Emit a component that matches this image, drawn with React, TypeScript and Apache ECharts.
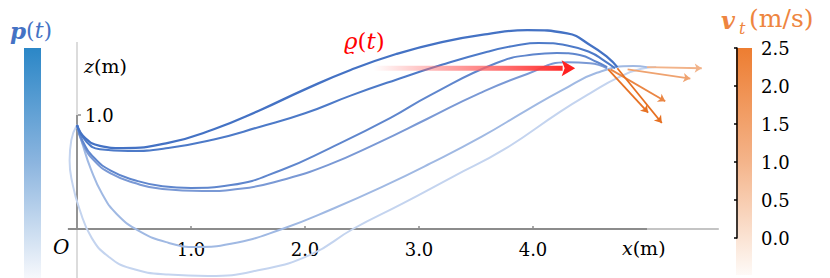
import React, { useEffect, useRef } from 'react';
import * as echarts from 'echarts';

// Trajectories p(t): [x (m), z (m)]
const curve1 = [[0,0.912],[0.07,0.80],[0.2,0.73],[0.4,0.71],[0.8,0.755],[1.2,0.875],[1.6,1.04],[2.0,1.225],[2.4,1.395],[2.8,1.535],[3.2,1.64],[3.6,1.71],[3.95,1.745],[4.3,1.715],[4.5,1.615],[4.65,1.51],[4.74,1.42]];
const curve2 = [[0,0.912],[0.08,0.77],[0.2,0.70],[0.45,0.684],[0.8,0.71],[1.2,0.785],[1.6,0.895],[2.0,1.015],[2.4,1.17],[2.8,1.31],[3.2,1.44],[3.6,1.555],[3.85,1.61],[4.05,1.632],[4.3,1.61],[4.5,1.55],[4.62,1.48],[4.72,1.41]];
const curve3 = [[0,0.912],[0.05,0.77],[0.15,0.625],[0.3,0.51],[0.5,0.43],[0.75,0.375],[1.0,0.36],[1.35,0.385],[1.8,0.52],[2.22,0.71],[2.75,0.975],[3.1,1.175],[3.68,1.456],[4.0,1.53],[4.21,1.544],[4.41,1.526],[4.56,1.465],[4.65,1.42]];
const curve4 = [[0,0.912],[0.05,0.75],[0.15,0.6],[0.3,0.485],[0.5,0.405],[0.75,0.35],[1.1,0.333],[1.45,0.355],[1.8,0.43],[2.2,0.56],[2.65,0.76],[3.07,0.965],[3.53,1.19],[3.95,1.36],[4.3,1.462],[4.5,1.455],[4.65,1.41]];
const curve5 = [[0,0.912],[0.05,0.74],[0.12,0.53],[0.22,0.31],[0.35,0.13],[0.55,-0.02],[0.8,-0.12],[1.05,-0.158],[1.35,-0.13],[1.8,0],[2.25,0.18],[2.7,0.38],[3.1,0.575],[3.55,0.81],[3.95,1.045],[4.26,1.22],[4.56,1.37],[4.88,1.43],[5.0,1.42]];
const curve6 = [[0,0.912],[-0.05,0.78],[-0.065,0.6],[-0.04,0.4],[0.02,0.18],[0.13,-0.08],[0.28,-0.245],[0.47,-0.345],[0.8,-0.40],[1.15,-0.412],[1.6,-0.36],[2.05,-0.225],[2.42,0],[2.85,0.22],[3.3,0.46],[3.75,0.70],[4.24,1.03],[4.5,1.19],[4.75,1.33],[4.95,1.405],[5.08,1.42]];

// Terminal velocity arrows
const arrowStart = [[5.0,1.42],[4.83,1.40],[4.68,1.40],[4.66,1.40],[4.74,1.41]];
const arrowEnd = [[5.48,1.41],[5.38,1.32],[5.16,1.12],[5.01,1.02],[5.13,0.93]];
const arrowSpeed = [0.8, 1.2, 1.9, 2.4, 2.45];

// Axes / ticks
const xTicks = [1, 2, 3, 4];
const zTicks = [1];
const speedMin = 0;
const speedMax = 2.5;
const speedStep = 0.5;

const SERIF = "'DejaVu Serif', 'Liberation Serif', serif";
const curveColors = ['#4472c4', '#4d7ac8', '#5f86cd', '#7a99d5', '#a0b9e3', '#c4d4ef'];
const curveWidths = [2.3, 2.1, 2, 2, 2, 2];

function speedColor(v: number) {
  const t = 0.3 + 0.7 * (v - speedMin) / (speedMax - speedMin);
  const c0 = [255, 255, 255];
  const c1 = [230, 110, 30];
  const c = c0.map((a, i) => Math.round(a + (c1[i] - a) * t));
  return `rgb(${c[0]},${c[1]},${c[2]})`;
}

const axisSeg = (coords: number[][], color: string, width: number) => ({
  type: 'line', xAxisIndex: 0, yAxisIndex: 0, data: coords, showSymbol: false, silent: true, z: 1,
  lineStyle: { color, width },
});

export default function App() {
  const ref = useRef<HTMLDivElement>(null);
  useEffect(() => {
    document.body.style.margin = '0';
    const chart = echarts.init(ref.current!, null, { renderer: 'svg' });
    const curves = [curve1, curve2, curve3, curve4, curve5, curve6];
    const option: any = {
      animation: false,
      grid: [
        { left: 54.2, top: 1, width: 684, height: 285, outerBoundsMode: 'none', containLabel: false },
        { left: 737, top: 48, width: 16, height: 190, outerBoundsMode: 'none', containLabel: false },
        { left: 77, top: 1, width: 661.2, height: 228, outerBoundsMode: 'none', containLabel: false },
      ],
      xAxis: [
        { gridIndex: 0, type: 'value', min: -0.2, max: 5.8, show: false },
        { gridIndex: 1, type: 'value', show: false, min: 0, max: 1 },
        {
          gridIndex: 2, type: 'value', min: 0, max: 5.8,
          axisLine: { show: false },
          axisTick: { show: true, inside: true, length: 3, customValues: xTicks, lineStyle: { color: '#8c8c8c', width: 1.5 } },
          axisLabel: { customValues: xTicks, formatter: (v: number) => v.toFixed(1), margin: 11, color: '#000', fontFamily: SERIF, fontSize: 18 },
          splitLine: { show: false },
        },
      ],
      yAxis: [
        { gridIndex: 0, type: 'value', min: -0.5, max: 2.0, show: false },
        {
          gridIndex: 1, type: 'value', position: 'right', min: speedMin, max: speedMax, interval: speedStep,
          axisLine: { show: true, lineStyle: { color: '#000', width: 1.5 } },
          axisTick: { show: true, inside: true, length: 3, lineStyle: { color: '#000', width: 1.5 } },
          axisLabel: { formatter: (v: number) => v.toFixed(1), margin: 8, color: '#000', fontFamily: SERIF, fontSize: 18 },
          splitLine: { show: false },
        },
        {
          gridIndex: 2, type: 'value', min: 0, max: 2.0,
          axisLine: { show: false },
          axisTick: { show: true, inside: true, length: 4, customValues: zTicks, lineStyle: { color: '#8c8c8c', width: 1.5 } },
          axisLabel: { inside: true, customValues: zTicks, formatter: (v: number) => v.toFixed(1), margin: 8, color: '#000', fontFamily: SERIF, fontSize: 18 },
          splitLine: { show: false },
        },
      ],
      series: [
        axisSeg([[0, -0.45], [0, 1.64]], '#dcdcdc', 2),
        axisSeg([[0, 0], [0, 1.0]], '#8c8c8c', 1.8),
        axisSeg([[-0.08, 0], [5.0, 0]], '#8c8c8c', 1.8),
        axisSeg([[5.0, 0], [5.63, 0]], '#c4c4c4', 1.8),
        ...curves.map((c, i) => ({
          type: 'line', xAxisIndex: 0, yAxisIndex: 0, data: c, smooth: 0.5, showSymbol: false, silent: true,
          z: 8 - i,
          lineStyle: { color: curveColors[i], width: curveWidths[i] },
        })),
        {
          type: 'lines', coordinateSystem: 'cartesian2d', xAxisIndex: 0, yAxisIndex: 0, silent: true, z: 9,
          symbol: ['none', 'arrow'], symbolSize: 7,
          data: arrowStart.map((s, i) => ({
            coords: [s, arrowEnd[i]],
            lineStyle: { color: speedColor(arrowSpeed[i]), width: 1.8, opacity: 1 },
          })),
        },
      ],
    };
    chart.setOption(option);

    const p = (pt: number[]) => chart.convertToPixel({ gridIndex: 0 }, pt) as number[];
    const a0 = p([2.6, 1.41]);
    const a1 = p([4.26, 1.41]);
    const aTip = p([4.37, 1.41]);

    chart.setOption({
      graphic: [
        {
          type: 'rect', shape: { x: 24, y: 48, width: 17, height: 230 }, silent: true,
          style: { fill: new echarts.graphic.LinearGradient(0, 0, 0, 1, [
            { offset: 0, color: '#2b87c7' }, { offset: 0.5, color: '#8cb5df' }, { offset: 1, color: '#f6f8fc' },
          ]) },
        },
        {
          type: 'rect', shape: { x: 736, y: 48, width: 16, height: 227 }, silent: true, z: -1,
          style: { fill: new echarts.graphic.LinearGradient(0, 0, 0, 1, [
            { offset: 0, color: '#ed7d31' }, { offset: 0.5, color: '#f4b48a' }, { offset: 1, color: '#fefaf7' },
          ]) },
        },
        {
          type: 'rect', shape: { x: a0[0], y: a0[1] - 2.5, width: a1[0] - a0[0], height: 5 }, silent: true, z: 20,
          style: { fill: new echarts.graphic.LinearGradient(0, 0, 1, 0, [
            { offset: 0, color: 'rgba(255,90,90,0)' }, { offset: 0.5, color: 'rgba(255,110,110,0.75)' }, { offset: 1, color: '#ff2a2a' },
          ]) },
        },
        {
          type: 'polygon', silent: true, z: 20,
          shape: { points: [[a1[0] - 1, a1[1] - 8], [aTip[0], aTip[1]], [a1[0] - 1, a1[1] + 8], [a1[0] + 2, a1[1]]] },
          style: { fill: '#ff2020' },
        },
        {
          type: 'text', x: 10, y: 30, silent: true,
          style: {
            text: '{b|p}{n|(}{i|t}{n|)}', verticalAlign: 'middle',
            rich: {
              b: { fontFamily: SERIF, fontSize: 23, fontWeight: 'bold', fontStyle: 'italic', fill: '#4472c4' },
              n: { fontFamily: SERIF, fontSize: 22, fill: '#4472c4' },
              i: { fontFamily: SERIF, fontSize: 22, fontStyle: 'italic', fill: '#4472c4' },
            },
          },
        },
        {
          type: 'text', x: 344, y: 41, silent: true,
          style: {
            text: '{i|ϱ}{n|(}{i|t}{n|)}', verticalAlign: 'middle',
            rich: {
              n: { fontFamily: SERIF, fontSize: 23, fill: '#ff0000' },
              i: { fontFamily: SERIF, fontSize: 23, fontStyle: 'italic', fill: '#ff0000' },
            },
          },
        },
        { type: 'text', x: 721, y: 20, silent: true, style: { text: 'v', fontFamily: SERIF, fontSize: 24, fontWeight: 'bold', fontStyle: 'italic', fill: '#ee8540', verticalAlign: 'middle' } },
        { type: 'text', x: 739, y: 28, silent: true, style: { text: 't', fontFamily: SERIF, fontSize: 16, fontStyle: 'italic', fill: '#ee8540', verticalAlign: 'middle' } },
        { type: 'text', x: 749, y: 18, silent: true, style: { text: '(m/s)', fontFamily: SERIF, fontSize: 25, fill: '#ee8540', verticalAlign: 'middle' } },
        {
          type: 'text', x: 84, y: 66, silent: true,
          style: { text: '{i|z}{n|(m)}', verticalAlign: 'middle', rich: {
            i: { fontFamily: SERIF, fontSize: 19, fontStyle: 'italic', fill: '#000' },
            n: { fontFamily: SERIF, fontSize: 19, fill: '#000' },
          } },
        },
        {
          type: 'text', x: 622, y: 248, silent: true,
          style: { text: '{i|x}{n|(m)}', verticalAlign: 'middle', rich: {
            i: { fontFamily: SERIF, fontSize: 19, fontStyle: 'italic', fill: '#000' },
            n: { fontFamily: SERIF, fontSize: 19, fill: '#000' },
          } },
        },
        { type: 'text', x: 53, y: 247, silent: true, style: { text: 'O', fontFamily: SERIF, fontSize: 20, fontStyle: 'italic', fill: '#000', verticalAlign: 'middle' } },
      ],
    });
    return () => chart.dispose();
  }, []);
  return <div ref={ref} style={{ width: 830, height: 278 }} />;
}
